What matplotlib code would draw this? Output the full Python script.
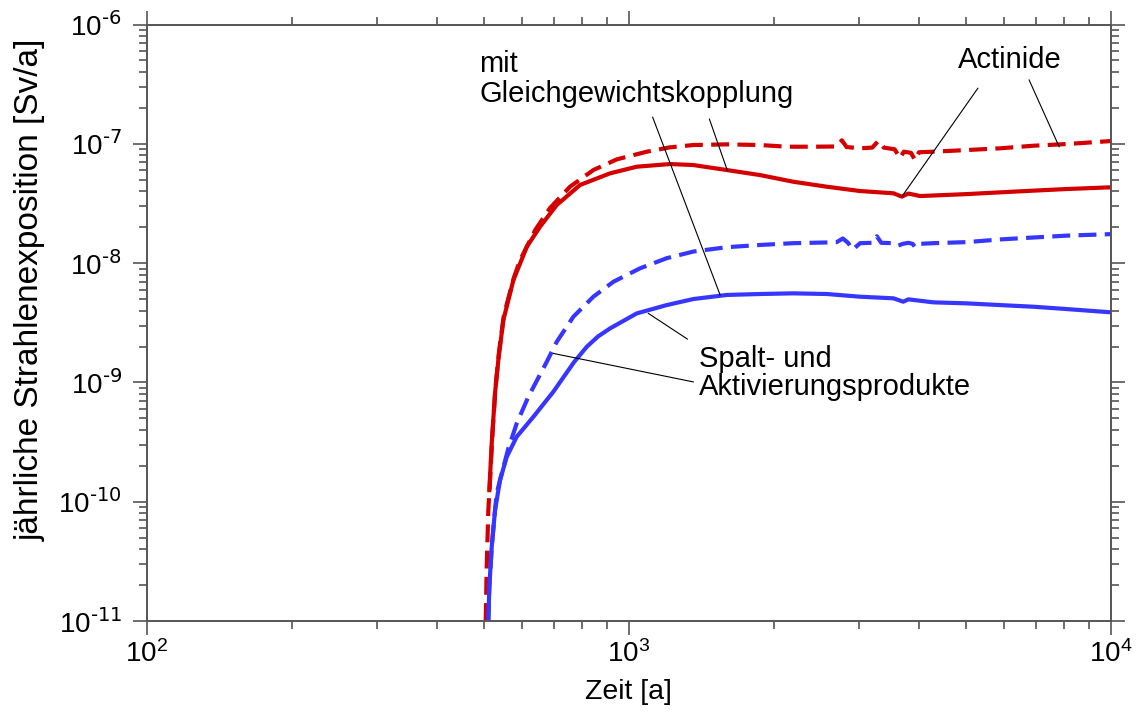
import matplotlib
matplotlib.use("Agg")
import matplotlib.pyplot as plt
from matplotlib.ticker import LogLocator, NullFormatter

plt.rcParams['font.family'] = ['Liberation Sans', 'DejaVu Sans']
plt.rcParams['mathtext.default'] = 'regular'

# Actinide, mit Gleichgewichtskopplung
t_act_mit = [513.8, 519.7, 528.0, 536.4, 549.3, 576.3, 614.4, 654.6, 708.9, 792.5,
             914.9, 1039, 1218, 1361, 1597, 1873, 2195, 2575, 3020, 3540, 3685,
             3802, 4022, 5026, 5893, 6911, 8102, 10000]
d_act_mit = [1.25e-10, 3.1e-10, 8.15e-10, 1.54e-9, 3.33e-9, 7.2e-9, 1.37e-8, 2.02e-8,
             3.07e-8, 4.52e-8, 5.66e-8, 6.43e-8, 6.77e-8, 6.64e-8, 6.03e-8, 5.47e-8,
             4.81e-8, 4.37e-8, 4.02e-8, 3.85e-8, 3.61e-8, 3.83e-8, 3.65e-8, 3.79e-8,
             3.92e-8, 4.05e-8, 4.18e-8, 4.32e-8]

# Actinide, ohne Kopplung
t_act_ohne = [505.0, 507.4, 511.3, 515.0, 521.0, 529.0, 538.0, 551.0, 578.0, 595.1,
              640.0, 686.7, 755.4, 844.5, 944.6, 1090, 1218, 1361, 1597, 1873, 2127,
              2415, 2700, 2767, 2830, 3020, 3200, 3295, 3380, 3560, 3656, 3720, 3850,
              3926, 4000, 4285, 5026, 5893, 6911, 8102, 10000]
d_act_ohne = [1.0e-11, 2.85e-11, 8.5e-11, 1.4e-10, 3.5e-10, 9.0e-10, 1.8e-9, 3.7e-9,
              7.6e-9, 1.06e-8, 1.9e-8, 2.90e-8, 4.37e-8, 6.03e-8, 7.41e-8, 8.59e-8,
              9.35e-8, 9.77e-8, 9.9e-8, 9.77e-8, 9.46e-8, 9.46e-8, 9.5e-8, 1.07e-7,
              9.4e-8, 9.17e-8, 9.3e-8, 1.06e-7, 9.3e-8, 9.0e-8, 7.6e-8, 8.6e-8, 8.4e-8,
              7.3e-8, 8.5e-8, 8.59e-8, 8.87e-8, 9.17e-8, 9.64e-8, 9.96e-8, 1.055e-7]

# Spalt- und Aktivierungsprodukte, mit Gleichgewichtskopplung
t_spa_mit = [511.3, 513.8, 519.7, 528.0, 540.8, 558.4, 585.7, 634.1, 697.6, 770.0,
             818.3, 863.6, 914.9, 1039, 1199, 1361, 1597, 1873, 2195, 2575, 3020,
             3540, 3710, 3802, 4285, 5026, 5893, 6911, 8102, 10000]
d_spa_mit = [1.0e-11, 1.94e-11, 4.2e-11, 8.5e-11, 1.52e-10, 2.38e-10, 3.51e-10, 5.15e-10,
             8.36e-10, 1.48e-9, 1.99e-9, 2.43e-9, 2.84e-9, 3.79e-9, 4.45e-9, 5.0e-9,
             5.41e-9, 5.51e-9, 5.58e-9, 5.51e-9, 5.23e-9, 5.07e-9, 4.75e-9, 4.97e-9,
             4.69e-9, 4.60e-9, 4.45e-9, 4.31e-9, 4.12e-9, 3.87e-9]

# Spalt- und Aktivierungsprodukte, ohne Kopplung
t_spa_ohne = [511.3, 513.8, 519.7, 528.0, 532.3, 545.2, 562.7, 585.7, 619.1, 676.0,
              708.9, 767.4, 844.5, 929.4, 1055, 1199, 1361, 1597, 1873, 2195, 2575,
              2700, 2780, 2850, 2915, 3020, 3200, 3270, 3340, 3540, 3620, 3700, 3800,
              3880, 3926, 4000, 4285, 5026, 5893, 6911, 8102, 10000]
d_spa_ohne = [1.0e-11, 1.94e-11, 4.2e-11, 8.5e-11, 1.18e-10, 1.73e-10, 2.8e-10, 4.54e-10,
              7.59e-10, 1.49e-9, 2.19e-9, 3.55e-9, 5.23e-9, 6.98e-9, 9.04e-9, 1.10e-8,
              1.25e-8, 1.36e-8, 1.42e-8, 1.47e-8, 1.49e-8, 1.50e-8, 1.61e-8, 1.48e-8,
              1.30e-8, 1.47e-8, 1.48e-8, 1.68e-8, 1.48e-8, 1.47e-8, 1.40e-8, 1.45e-8,
              1.48e-8, 1.45e-8, 1.36e-8, 1.45e-8, 1.47e-8, 1.50e-8, 1.58e-8, 1.64e-8,
              1.70e-8, 1.75e-8]

x_major = [1e2, 1e3, 1e4]
x_labels = [r'$10^{2}$', r'$10^{3}$', r'$10^{4}$']
y_major = [1e-11, 1e-10, 1e-9, 1e-8, 1e-7, 1e-6]
y_labels = [r'$10^{\text{-11}}$', r'$10^{\text{-10}}$', r'$10^{\text{-9}}$',
            r'$10^{\text{-8}}$', r'$10^{\text{-7}}$', r'$10^{\text{-6}}$']

RED = '#d40000'
BLUE = '#3636ff'
AXC = '#555555'

fig = plt.figure(figsize=(11.37, 7.13), dpi=100)
ax = fig.add_axes([0.129, 0.129, 0.848, 0.8366])

lw = 3.0
dash = (4.3, 2.0)
ax.plot(t_act_ohne, d_act_ohne, color=RED, lw=lw, dashes=dash)
ax.plot(t_spa_ohne, d_spa_ohne, color=BLUE, lw=lw, dashes=dash)
ax.plot(t_act_mit, d_act_mit, color=RED, lw=lw)
ax.plot(t_spa_mit, d_spa_mit, color=BLUE, lw=lw)

ax.set_xscale('log')
ax.set_yscale('log')
ax.set_xlim(1e2, 1e4)
ax.set_ylim(1e-11, 1e-6)

ax.set_xticks(x_major, x_labels)
ax.set_yticks(y_major, y_labels)
ax.xaxis.set_minor_locator(LogLocator(base=10, subs=range(2, 10)))
ax.yaxis.set_minor_locator(LogLocator(base=10, subs=range(2, 10)))
ax.xaxis.set_minor_formatter(NullFormatter())
ax.yaxis.set_minor_formatter(NullFormatter())

for s in ax.spines.values():
    s.set_color(AXC)
    s.set_linewidth(1.4)
ax.tick_params(which='both', direction='out', color=AXC, width=1.2,
               top=True, right=True, labelsize=20, labelcolor='black')
ax.tick_params(which='major', length=10, pad=4)
ax.tick_params(which='minor', length=5.5)
ax.tick_params(axis='y', which='major', pad=8)

ax.set_xlabel('Zeit [a]', fontsize=20.5, labelpad=8)
fig.text(30 / 1137, 1 - 290 / 713, 'jährliche Strahlenexposition [Sv/a]',
         fontsize=24, rotation=90, ha='center', va='center')

# Beschriftungen mit Hinweislinien
fs = 21
ax.text(4806, 4.29e-7, 'Actinide', fontsize=fs, ha='left', va='baseline')
ax.plot([5297, 3685], [2.92e-7, 3.61e-8], color='black', lw=0.8)
ax.plot([6768, 7812], [3.43e-7, 9.46e-8], color='black', lw=0.8)

ax.text(489.8, 4.02e-7, 'mit', fontsize=fs, ha='left', va='baseline')
ax.text(489.8, 2.25e-7, 'Gleichgewichtskopplung', fontsize=fs, ha='left', va='baseline')
ax.plot([1121, 1547], [1.67e-7, 5.41e-9], color='black', lw=0.8)
ax.plot([1470, 1602], [1.61e-7, 5.95e-8], color='black', lw=0.8)

ax.text(1399, 1.35e-9, 'Spalt- und', fontsize=fs, ha='left', va='baseline')
ax.text(1399, 7.84e-10, 'Aktivierungsprodukte', fontsize=fs, ha='left', va='baseline')
ax.plot([1323, 1098], [2.31e-9, 3.79e-9], color='black', lw=0.8)
ax.plot([1361, 697.6], [1.01e-9, 1.75e-9], color='black', lw=0.8)

fig.savefig('out.png', dpi=100)
